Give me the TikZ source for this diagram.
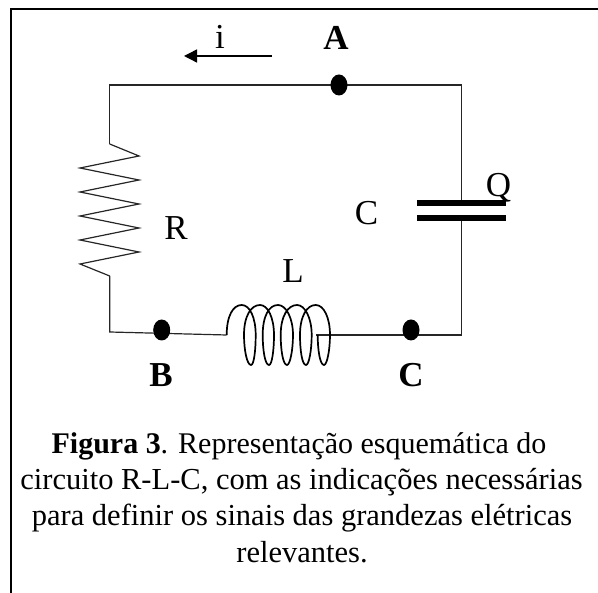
\documentclass[tikz,border=0pt]{standalone}
\usepackage{fontspec}
\setmainfont{Liberation Serif}
\usetikzlibrary{arrows.meta,shapes.geometric}
\tikzset{
  wire/.style={line width=1.2pt,draw=black!85},
  frameline/.style={line width=2pt,draw=black},
  terminal/.style={ellipse,fill=black,minimum width=17pt,minimum height=21pt,inner sep=0pt},
  lab/.style={font=\fontsize{35}{40}\selectfont,inner sep=0pt},
  blab/.style={font=\fontsize{35}{40}\selectfont\bfseries,inner sep=0pt},
  plate/.style={line width=6pt,draw=black},
  coil/.style={line width=1.7pt,draw=black},
  captionline/.style={anchor=base,inner sep=0pt,font=\fontsize{30.5}{36}\selectfont}
}
\begin{document}
\begin{tikzpicture}[x=1pt,y=-1pt]
\useasboundingbox (0,0) rectangle (598,593);
% frame
\draw[frameline] (11,593) -- (11,9) -- (598,9);
% coordinates
\coordinate (tl) at (109.7,85);
\coordinate (tr) at (461.7,85);
\coordinate (br) at (461.7,335);
\coordinate (bl) at (109.7,332);
\coordinate (rt) at (109.7,144);
\coordinate (rb) at (109.7,276);
\coordinate (lin) at (226.7,335);
\coordinate (lout) at (316,335);
\coordinate (ct) at (461.7,203);
\coordinate (cb) at (461.7,218);
% wires
\draw[wire] (rt) -- (tl) -- (tr) -- (ct);
\draw[wire] (cb) -- (br) -- (lout);
\draw[wire] (rb) -- (bl) -- (lin);
% terminals
\node[terminal] (A) at (339,85) {};
\node[terminal] (B) at (161.7,330) {};
\node[terminal] (Cc) at (411,330) {};
% resistor
\draw[wire,line join=miter] (rt) -- (139,156) -- (80,168) -- (139,180) -- (80,192) -- (139,204) -- (80,216) -- (139,228) -- (80,240) -- (139,252) -- (80,264) -- (rb);
% inductor
\draw[coil] (lin) .. controls (226.7,316) and (233,305) .. (241.7,305)
 .. controls (250,305) and (255.7,318) .. (255.7,335)
 .. controls (255.7,350) and (254,365) .. (251,365)
 .. controls (247,365) and (244,350) .. (244,335)
 .. controls (244,316) and (251,305) .. (260,305)
 .. controls (268,305) and (274,318) .. (274,335)
 .. controls (274,350) and (272,365) .. (269,365)
 .. controls (265,365) and (262.7,350) .. (262.7,335)
 .. controls (262.7,316) and (269,305) .. (278,305)
 .. controls (286,305) and (293,318) .. (293,335)
 .. controls (293,350) and (290,365) .. (287,365)
 .. controls (283,365) and (280.7,350) .. (280.7,335)
 .. controls (280.7,316) and (288,305) .. (297,305)
 .. controls (305,305) and (311.7,318) .. (311.7,335)
 .. controls (311.7,350) and (309,365) .. (306,365)
 .. controls (302,365) and (300,350) .. (300,335)
 .. controls (300,316) and (307,305) .. (315.7,305)
 .. controls (324,305) and (330,318) .. (330,335)
 .. controls (330,350) and (327,365) .. (324,365)
 .. controls (320,365) and (317.7,350) .. (317.7,335);
% capacitor
\draw[plate] (417,203) -- (506,203);
\draw[plate] (417,218) -- (506,218);
% current arrow
\coordinate (iend) at (272,56);
\coordinate (itip) at (184,56);
\draw[line width=1.4pt,-{Triangle[length=13pt,width=13pt]}] (iend) -- (itip);
% labels
\node[lab,anchor=base] (li) at (220,49) {i};
\node[blab,anchor=base] (lA) at (336,50) {A};
\node[lab,anchor=base] (lQ) at (498.5,197) {Q};
\node[lab,anchor=base] (lC) at (366.5,225) {C};
\node[lab,anchor=base] (lR) at (176,240) {R};
\node[lab,anchor=base] (lL) at (293,283) {L};
\node[blab,anchor=base] (lB) at (161,387) {B};
\node[blab,anchor=base] (lCc) at (411,387) {C};
% caption
\node[captionline,font=\fontsize{30}{36}\selectfont] (cap1) at (299,453.5) {\textbf{Figura 3}. Representação esquemática do};
\node[captionline] (cap2) at (301.5,489.5) {circuito R-L-C, com as indicações necessárias};
\node[captionline] (cap3) at (302,526) {para definir os sinais das grandezas elétricas};
\node[captionline] (cap4) at (302,563) {relevantes.};
\end{tikzpicture}
\end{document}
